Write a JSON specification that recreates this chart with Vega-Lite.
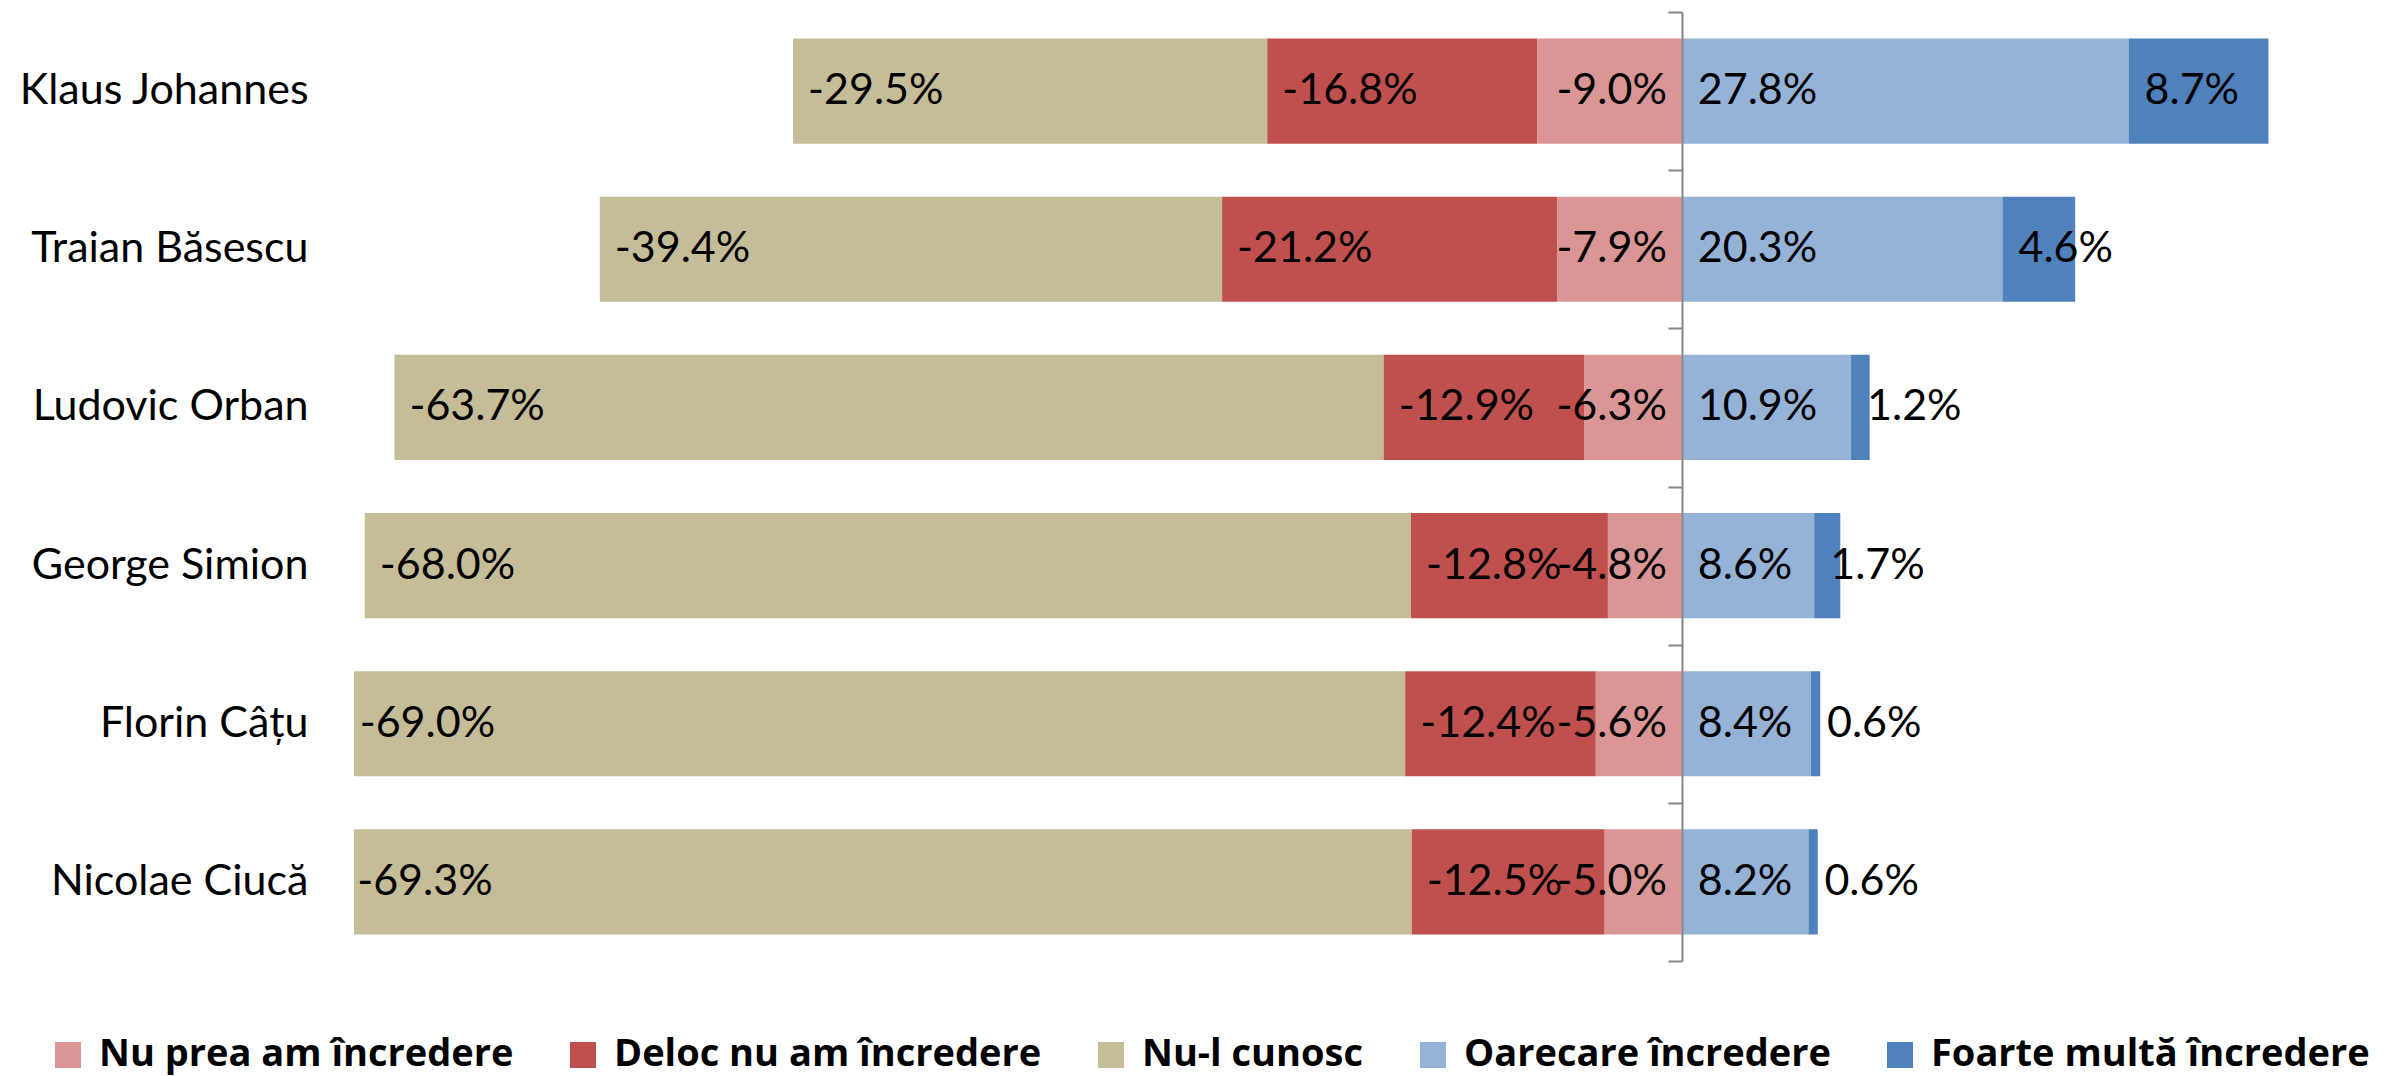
{
  "$schema": "https://vega.github.io/schema/vega-lite/v6.json",
  "autosize": {"type": "none"},
  "padding": {"left": 354, "top": 12, "right": 128, "bottom": 115},
  "width": 1918,
  "height": 949,
  "background": "white",
  "config": {
    "view": {"stroke": null},
    "font": "Lato",
    "locale": {"number": {"decimal": ".", "thousands": ",", "grouping": [3], "currency": ["", ""], "minus": "-"}}
  },
  "datasets": {
    "cats": [
      {"cat": "Nu prea am încredere", "k": 1},
      {"cat": "Deloc nu am încredere", "k": 2},
      {"cat": "Nu-l cunosc", "k": 3},
      {"cat": "Oarecare încredere", "k": 4},
      {"cat": "Foarte multă încredere", "k": 5}
    ]
  },
  "data": {"values": [
    {"name": "Klaus Johannes", "cat": "Nu-l cunosc", "pct": -0.295, "share": -0.3214},
    {"name": "Klaus Johannes", "cat": "Deloc nu am încredere", "pct": -0.168, "share": -0.1830},
    {"name": "Klaus Johannes", "cat": "Nu prea am încredere", "pct": -0.090, "share": -0.0980},
    {"name": "Klaus Johannes", "cat": "Oarecare încredere", "pct": 0.278, "share": 0.3028},
    {"name": "Klaus Johannes", "cat": "Foarte multă încredere", "pct": 0.087, "share": 0.0948},
    {"name": "Traian Băsescu", "cat": "Nu-l cunosc", "pct": -0.394, "share": -0.4218},
    {"name": "Traian Băsescu", "cat": "Deloc nu am încredere", "pct": -0.212, "share": -0.2270},
    {"name": "Traian Băsescu", "cat": "Nu prea am încredere", "pct": -0.079, "share": -0.0846},
    {"name": "Traian Băsescu", "cat": "Oarecare încredere", "pct": 0.203, "share": 0.2173},
    {"name": "Traian Băsescu", "cat": "Foarte multă încredere", "pct": 0.046, "share": 0.0493},
    {"name": "Ludovic Orban", "cat": "Nu-l cunosc", "pct": -0.637, "share": -0.6705},
    {"name": "Ludovic Orban", "cat": "Deloc nu am încredere", "pct": -0.129, "share": -0.1358},
    {"name": "Ludovic Orban", "cat": "Nu prea am încredere", "pct": -0.063, "share": -0.0663},
    {"name": "Ludovic Orban", "cat": "Oarecare încredere", "pct": 0.109, "share": 0.1147},
    {"name": "Ludovic Orban", "cat": "Foarte multă încredere", "pct": 0.012, "share": 0.0126},
    {"name": "George Simion", "cat": "Nu-l cunosc", "pct": -0.680, "share": -0.7091},
    {"name": "George Simion", "cat": "Deloc nu am încredere", "pct": -0.128, "share": -0.1335},
    {"name": "George Simion", "cat": "Nu prea am încredere", "pct": -0.048, "share": -0.0501},
    {"name": "George Simion", "cat": "Oarecare încredere", "pct": 0.086, "share": 0.0897},
    {"name": "George Simion", "cat": "Foarte multă încredere", "pct": 0.017, "share": 0.0177},
    {"name": "Florin Câțu", "cat": "Nu-l cunosc", "pct": -0.690, "share": -0.7188},
    {"name": "Florin Câțu", "cat": "Deloc nu am încredere", "pct": -0.124, "share": -0.1292},
    {"name": "Florin Câțu", "cat": "Nu prea am încredere", "pct": -0.056, "share": -0.0583},
    {"name": "Florin Câțu", "cat": "Oarecare încredere", "pct": 0.084, "share": 0.0875},
    {"name": "Florin Câțu", "cat": "Foarte multă încredere", "pct": 0.006, "share": 0.0063},
    {"name": "Nicolae Ciucă", "cat": "Nu-l cunosc", "pct": -0.693, "share": -0.7249},
    {"name": "Nicolae Ciucă", "cat": "Deloc nu am încredere", "pct": -0.125, "share": -0.1308},
    {"name": "Nicolae Ciucă", "cat": "Nu prea am încredere", "pct": -0.050, "share": -0.0523},
    {"name": "Nicolae Ciucă", "cat": "Oarecare încredere", "pct": 0.082, "share": 0.0858},
    {"name": "Nicolae Ciucă", "cat": "Foarte multă încredere", "pct": 0.006, "share": 0.0063}
  ]},
  "transform": [
    {"lookup": "cat", "from": {"data": {"name": "cats"}, "key": "cat", "fields": ["k"]}},
    {"stack": "share", "groupby": ["name"], "sort": [{"field": "k", "order": "ascending"}], "as": ["x0", "x1"], "offset": "zero"}
  ],
  "resolve": {"axis": {"y": "independent"}, "scale": {"y": "independent"}},
  "layer": [
    {
      "mark": {"type": "bar", "clip": true},
      "encoding": {
        "y": {
          "field": "name", "type": "nominal",
          "sort": ["Klaus Johannes", "Traian Băsescu", "Ludovic Orban", "George Simion", "Florin Câțu", "Nicolae Ciucă"],
          "scale": {"type": "band", "paddingInner": 0.335, "paddingOuter": 0.1675},
          "axis": {
            "title": null, "orient": "left", "domain": false, "ticks": false, "tickSize": 0,
            "labelPadding": 46, "labelFont": "Lato", "labelFontSize": 43, "labelColor": "#000000", "labelLimit": 0
          }
        },
        "x": {
          "field": "x0", "type": "quantitative",
          "scale": {"domain": [-0.9, 0.4], "nice": false, "zero": false},
          "axis": null
        },
        "x2": {"field": "x1"},
        "color": {
          "field": "cat", "type": "nominal",
          "scale": {
            "domain": ["Nu prea am încredere", "Deloc nu am încredere", "Nu-l cunosc", "Oarecare încredere", "Foarte multă încredere"],
            "range": ["#D99694", "#C0504D", "#C4BD97", "#95B3D7", "#4F81BD"]
          },
          "legend": {
            "title": null, "orient": "none", "legendX": -305, "legendY": 1024, "direction": "horizontal",
            "symbolType": "square", "symbolSize": 676, "symbolStrokeWidth": 0,
            "labelFont": "Open Sans", "labelFontWeight": "bold", "labelFontSize": 38, "labelColor": "#000000",
            "labelOffset": 12, "columnPadding": 50, "labelLimit": 0
          }
        }
      }
    },
    {
      "mark": {"type": "point", "opacity": 0},
      "encoding": {
        "y": {
          "field": "name", "type": "nominal",
          "sort": ["Klaus Johannes", "Traian Băsescu", "Ludovic Orban", "George Simion", "Florin Câțu", "Nicolae Ciucă"],
          "scale": {"type": "band", "paddingInner": 0, "paddingOuter": 0},
          "axis": {
            "title": null, "orient": "left", "offset": -1328, "labels": false, "zindex": 1,
            "domain": true, "domainColor": "#868686", "domainWidth": 2,
            "ticks": true, "tickBand": "extent", "tickSize": 14, "tickColor": "#868686", "tickWidth": 2
          }
        },
        "x": {"datum": 0, "type": "quantitative"}
      }
    },
    {
      "transform": [{"filter": "datum.k == 1"}],
      "mark": {"type": "text", "align": "right", "baseline": "middle", "dx": -15, "font": "Lato", "fontSize": 43, "color": "#000000"},
      "encoding": {
        "y": {
          "field": "name", "type": "nominal",
          "sort": ["Klaus Johannes", "Traian Băsescu", "Ludovic Orban", "George Simion", "Florin Câțu", "Nicolae Ciucă"],
          "axis": null
        },
        "x": {"field": "x0", "type": "quantitative"},
        "text": {"field": "pct", "type": "quantitative", "format": ".1%"}
      }
    },
    {
      "transform": [{"filter": "datum.share < 0 && datum.k != 1"}],
      "mark": {"type": "text", "align": "left", "baseline": "middle", "dx": 15, "font": "Lato", "fontSize": 43, "color": "#000000"},
      "encoding": {
        "y": {
          "field": "name", "type": "nominal",
          "sort": ["Klaus Johannes", "Traian Băsescu", "Ludovic Orban", "George Simion", "Florin Câțu", "Nicolae Ciucă"],
          "axis": null
        },
        "x": {"field": "x1", "type": "quantitative"},
        "text": {"field": "pct", "type": "quantitative", "format": ".1%"}
      }
    },
    {
      "transform": [{"filter": "datum.share > 0"}],
      "mark": {"type": "text", "align": "left", "baseline": "middle", "dx": 16, "font": "Lato", "fontSize": 43, "color": "#000000"},
      "encoding": {
        "y": {
          "field": "name", "type": "nominal",
          "sort": ["Klaus Johannes", "Traian Băsescu", "Ludovic Orban", "George Simion", "Florin Câțu", "Nicolae Ciucă"],
          "axis": null
        },
        "x": {"field": "x0", "type": "quantitative"},
        "text": {"field": "pct", "type": "quantitative", "format": ".1%"}
      }
    }
  ]
}
